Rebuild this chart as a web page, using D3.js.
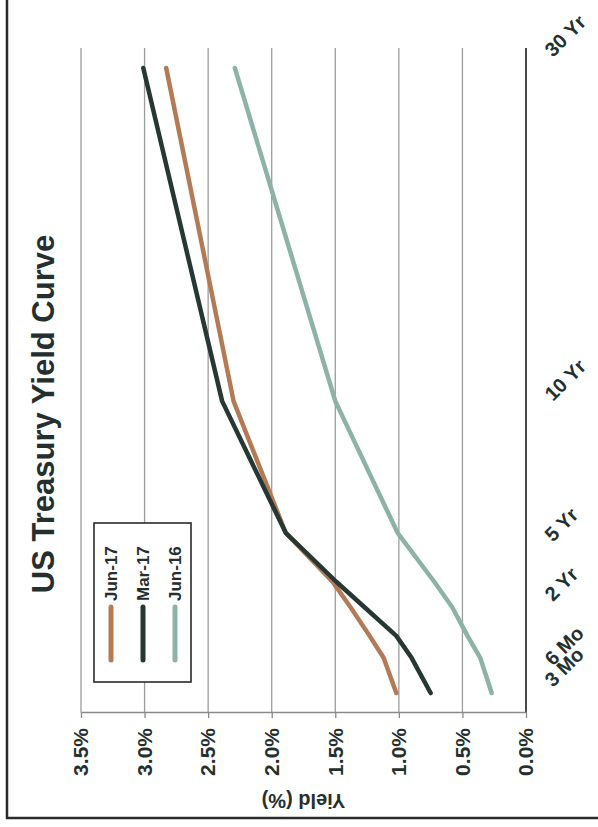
<!DOCTYPE html>
<html><head><meta charset="utf-8">
<script src="https://cdn.jsdelivr.net/npm/d3@7"></script>
<style>html,body{margin:0;padding:0;background:#fff;} svg{display:block;}</style>
</head><body>
<svg id="chart" width="598" height="827"></svg>
<script>
// ---- data ----
const maturityLabels = ["3 Mo","6 Mo","1 Yr","2 Yr","3 Yr","5 Yr","10 Yr","30 Yr"];
const maturityYears  = [0.25, 0.5, 1, 2, 3, 5, 10, 30];
const shownMaturityLabels = ["3 Mo","6 Mo","2 Yr","5 Yr","10 Yr","30 Yr"];
const seriesNames = ["Jun-17","Mar-17","Jun-16"];
const jun17 = [1.02, 1.12, 1.23, 1.38, 1.52, 1.89, 2.30, 2.83];
const mar17 = [0.75, 0.90, 1.02, 1.27, 1.49, 1.89, 2.39, 3.01];
const jun16 = [0.27, 0.36, 0.46, 0.58, 0.72, 1.01, 1.50, 2.29];
const yieldTicks = [0, 0.5, 1.0, 1.5, 2.0, 2.5, 3.0, 3.5];
const chartTitle = "US Treasury Yield Curve";
const yAxisTitle = "Yield (%)";

// ---- layout (chart drawn unrotated, then turned -90deg) ----
const W = 827, H = 598;
const FONT = "'Liberation Sans', Arial, sans-serif";
const TXT = "#25302e";
const colors = {"Jun-17": "#b47a55", "Mar-17": "#273833", "Jun-16": "#8db3a5"};
const plot = {left: 114, right: 779, top: 81, bottom: 526};
const pw = plot.right - plot.left;
// uneven maturity axis: fraction of plot width for each maturity
const axisFrac = [0.030, 0.083, 0.116, 0.159, 0.197, 0.271, 0.469, 0.970];
// tick-label nudges along the axis (px)
const labelNudge = {"3 Mo": 5, "6 Mo": -9, "2 Yr": 5, "5 Yr": -10, "10 Yr": -1, "30 Yr": 10};

const svg = d3.select("#chart");
const g = svg.append("g").attr("transform", `translate(0,${W}) rotate(-90)`);

const x = d3.scaleLinear().domain(maturityYears).range(axisFrac.map(f => plot.left + f * pw));
const y = d3.scaleLinear().domain([0, 3.5]).range([plot.bottom, plot.top]);

// outer frame
g.append("rect").attr("x", 9).attr("y", 7).attr("width", 1200).attr("height", 1200)
  .attr("fill", "none").attr("stroke", "#2a2a2a").attr("stroke-width", 2.5);

// title
g.append("text").attr("x", 413).attr("y", 54).attr("text-anchor", "middle")
  .attr("font-family", FONT).attr("font-weight", "bold").attr("font-size", 31)
  .attr("fill", TXT).text(chartTitle);

// gridlines
g.append("g").selectAll("line").data(yieldTicks).join("line")
  .attr("x1", plot.left).attr("x2", plot.right)
  .attr("y1", d => y(d)).attr("y2", d => y(d))
  .attr("stroke", d => d === 0 ? "#4a4a4a" : "#9c9c9c")
  .attr("stroke-width", d => d === 0 ? 2 : 1.3);

// left value axis
const yAxis = d3.axisLeft(y).tickValues(yieldTicks).tickSize(5).tickSizeOuter(0)
  .tickFormat(d => d.toFixed(1) + "%");
const ya = g.append("g").attr("transform", `translate(${plot.left},0)`).call(yAxis);
ya.select(".domain").attr("stroke", "#8a8a8a").attr("stroke-width", 1.5);
ya.selectAll(".tick line").attr("stroke", "#8a8a8a").attr("stroke-width", 1.3);
ya.selectAll(".tick text").attr("x", -15).attr("font-family", FONT).attr("font-weight", "bold")
  .attr("font-size", 21).attr("fill", TXT);

// y axis title
g.append("text").attr("transform", `translate(33,${(plot.top + plot.bottom) / 2}) rotate(-90)`)
  .attr("text-anchor", "middle").attr("font-family", FONT).attr("font-weight", "bold")
  .attr("font-size", 20).attr("fill", TXT).text(yAxisTitle);

// maturity labels
g.append("g").selectAll("text").data(shownMaturityLabels).join("text")
  .attr("transform", d => `translate(${x(maturityYears[maturityLabels.indexOf(d)]) + labelNudge[d]},553) rotate(45)`)
  .attr("text-anchor", "start").attr("font-family", FONT).attr("font-weight", "bold")
  .attr("font-size", 20).attr("fill", TXT).text(d => d);

// series lines
const series = [
  {name: "Jun-17", values: jun17},
  {name: "Mar-17", values: mar17},
  {name: "Jun-16", values: jun16}
];
const line = d3.line().x((d, i) => x(maturityYears[i])).y(d => y(d));
g.append("g").selectAll("path").data(series).join("path")
  .attr("d", s => line(s.values)).attr("fill", "none")
  .attr("stroke", s => colors[s.name]).attr("stroke-width", 4.5)
  .attr("stroke-linejoin", "round").attr("stroke-linecap", "round");

// legend
const lg = g.append("g");
lg.append("rect").attr("x", 145).attr("y", 94).attr("width", 159).attr("height", 97)
  .attr("fill", "#fff").attr("stroke", "#2a2a2a").attr("stroke-width", 1.6);
const rowY = d3.scalePoint().domain(seriesNames).range([111, 175]);
const items = lg.selectAll("g.item").data(seriesNames).join("g").attr("class", "item")
  .attr("transform", d => `translate(0,${rowY(d)})`);
items.append("line").attr("x1", 167).attr("x2", 220)
  .attr("stroke", d => colors[d]).attr("stroke-width", 5).attr("stroke-linecap", "round");
items.append("text").attr("x", 226).attr("dy", "0.35em").attr("font-family", FONT)
  .attr("font-weight", "bold").attr("font-size", 17).attr("fill", TXT).text(d => d);
</script>
</body></html>
